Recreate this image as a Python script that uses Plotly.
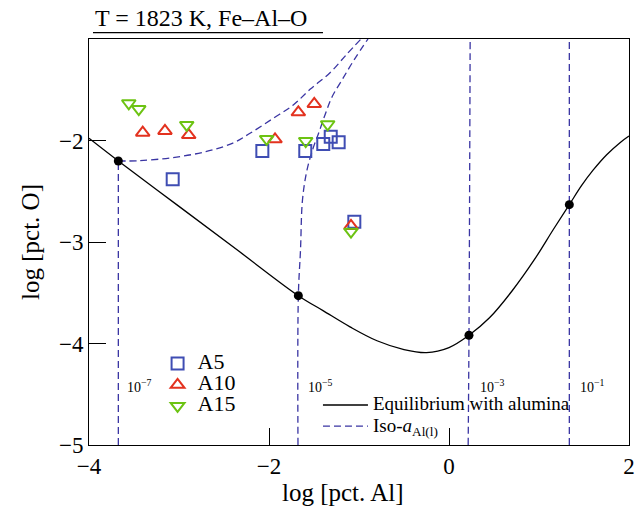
import plotly.graph_objects as go

# ---- measured samples (log wt.% Al, log wt.% O) ----
a5_al = [-3.070, -2.074, -1.597, -1.397, -1.314, -1.226, -1.052]
a5_o = [-2.382, -2.103, -2.103, -2.034, -1.963, -2.018, -2.800]

a10_al = [-3.403, -3.156, -2.892, -1.933, -1.674, -1.497, -1.089]
a10_o = [-1.923, -1.906, -1.946, -1.988, -1.722, -1.640, -2.842]

a15_al = [-3.558, -3.447, -2.914, -2.026, -1.592, -1.348, -1.089]
a15_o = [-1.633, -1.690, -1.847, -1.985, -2.005, -1.840, -2.898]

# ---- alumina saturation curve ----
eq_al = [-4.000, -3.674, -3.000, -2.333, -1.674, -1.400, -1.100, -0.800, -0.500,
         -0.250, 0.000, 0.222, 0.450, 0.700, 0.950, 1.159, 1.337, 1.474, 1.603,
         1.752, 1.900, 2.000]
eq_o = [-1.978, -2.202, -2.649, -3.092, -3.529, -3.676, -3.836, -3.973, -4.060,
        -4.090, -4.040, -3.919, -3.747, -3.483, -3.172, -2.877, -2.632, -2.443, -2.290,
        -2.140, -2.021, -1.956]

# intersections of the iso-activity lines with the saturation curve
node_al = [-3.674, -1.674, 0.222, 1.337]
node_o = [-2.202, -3.529, -3.919, -2.632]

# ---- iso-activity lines of Al(l) ----
iso7_low_al = [-3.674, -3.674]
iso7_low_o = [-5.000, -2.202]
iso7_up_al = [-3.674, -3.444, -3.074, -2.703, -2.408, -2.211, -1.952, -1.730,
              -1.544, -1.322, -1.137, -0.978]
iso7_up_o = [-2.202, -2.199, -2.169, -2.110, -2.028, -1.929, -1.781, -1.650,
             -1.496, -1.332, -1.151, -1.000]

iso5_al = [-1.678, -1.674, -1.650, -1.628, -1.578, -1.511, -1.456, -1.378,
           -1.300, -1.189, -1.056, -0.900]
iso5_o = [-5.000, -3.529, -3.079, -2.586, -2.291, -2.079, -1.946, -1.749,
          -1.571, -1.404, -1.207, -1.000]

iso3_al = [0.213, 0.222, 0.235]
iso3_o = [-5.000, -3.919, -1.000]

iso1_al = [1.337, 1.337, 1.337]
iso1_o = [-5.000, -2.632, -1.000]

iso_labels = ["10<sup>−7</sup>", "10<sup>−5</sup>", "10<sup>−3</sup>", "10<sup>−1</sup>"]
iso_label_al = [-3.596, -1.594, 0.326, 1.437]
iso_label_o = [-4.419, -4.419, -4.419, -4.419]

series_names = ["A5", "A10", "A15"]

FONT = "Liberation Serif, serif"
BLUE = "#3f4db3"
RED = "#e3321f"
GREEN = "#6cc312"
ISO = "#3a35a3"
DASH = "7px,4px"

fig = go.Figure()

# alumina saturation curve
fig.add_trace(go.Scatter(
    x=eq_al, y=eq_o, mode="lines",
    line=dict(color="black", width=1.3, shape="spline", smoothing=1.0),
    name='<span style="font-size:19px">Equilibrium with alumina</span>',
    legend="legend2", hoverinfo="skip"))

# iso-activity lines
iso_style = dict(color=ISO, width=1.3, dash=DASH)
fig.add_trace(go.Scatter(
    x=iso7_low_al, y=iso7_low_o, mode="lines", line=iso_style,
    name='<span style="font-size:19px">Iso-<i>a</i><sub>Al(l)</sub></span>',
    legend="legend2", legendgroup="iso"))
fig.add_trace(go.Scatter(
    x=iso7_up_al, y=iso7_up_o, mode="lines", line=dict(iso_style, shape="spline"),
    showlegend=False, legendgroup="iso"))
fig.add_trace(go.Scatter(
    x=iso5_al, y=iso5_o, mode="lines", line=dict(iso_style, shape="spline"),
    showlegend=False, legendgroup="iso"))
fig.add_trace(go.Scatter(
    x=iso3_al, y=iso3_o, mode="lines", line=dict(iso_style, shape="spline"),
    showlegend=False, legendgroup="iso"))
fig.add_trace(go.Scatter(
    x=iso1_al, y=iso1_o, mode="lines", line=iso_style,
    showlegend=False, legendgroup="iso"))

# intersection nodes
fig.add_trace(go.Scatter(
    x=node_al, y=node_o, mode="markers", marker=dict(color="black", size=9),
    showlegend=False))

# samples
for name, xs, ys, sym, col in [
        (series_names[0], a5_al, a5_o, "square-open", BLUE),
        (series_names[1], a10_al, a10_o, "triangle-up-open", RED),
        (series_names[2], a15_al, a15_o, "triangle-down-open", GREEN)]:
    fig.add_trace(go.Scatter(
        x=xs, y=ys, mode="markers",
        marker=dict(symbol=sym, size=12, color=col, line=dict(color=col, width=2)),
        name=f'<span style="font-size:22px">{name}</span>', legend="legend"))

for txt, xa, ya in zip(iso_labels, iso_label_al, iso_label_o):
    fig.add_annotation(x=xa, y=ya, text=txt, showarrow=False, xanchor="left",
                       yanchor="middle", font=dict(family=FONT, size=14, color="black"))

# title with underline
fig.add_annotation(xref="paper", yref="paper", x=0.0074, y=1.052, text="T = 1823 K, Fe–Al–O",
                   showarrow=False, xanchor="left", yanchor="middle",
                   font=dict(family=FONT, size=24, color="black"))
fig.add_shape(type="line", xref="paper", yref="paper", x0=0.0074, x1=0.4333,
              y0=1.0155, y1=1.0155, line=dict(color="black", width=1.2))

# x-axis title
fig.add_annotation(xref="paper", yref="paper", x=(343 - 89) / 540, y=(445 - 492) / 406,
                   text="log [pct. Al]", showarrow=False, xanchor="center", yanchor="middle",
                   font=dict(family=FONT, size=25, color="black"))

axis_common = dict(
    showgrid=False, zeroline=False, showline=True, linecolor="black", linewidth=1,
    mirror=True, ticks="inside", ticklen=17, tickwidth=1, tickcolor="black",
    tickfont=dict(family=FONT, size=23, color="black"))

fig.update_layout(
    width=640, height=510,
    margin=dict(l=89, r=11, t=39, b=65, autoexpand=False),
    paper_bgcolor="white", plot_bgcolor="white",
    font=dict(family=FONT, color="black"),
    xaxis=dict(axis_common, range=[-4, 2], tickvals=[-4, -2, 0, 2]),
    yaxis=dict(axis_common, range=[-5, -1], tickvals=[-5, -4, -3, -2],
               title=dict(text="log [pct. O]", font=dict(family=FONT, size=25), standoff=12)),
    legend=dict(x=0.127, y=0.239, xanchor="left", yanchor="top",
                font=dict(family=FONT, size=14), bgcolor="rgba(0,0,0,0)",
                borderwidth=0, tracegroupgap=0),
    legend2=dict(x=0.424, y=0.137, xanchor="left", yanchor="top", itemwidth=45,
                 font=dict(family=FONT, size=14), bgcolor="rgba(0,0,0,0)",
                 borderwidth=0, tracegroupgap=0),
    showlegend=True,
)

fig.write_html("out.html")
